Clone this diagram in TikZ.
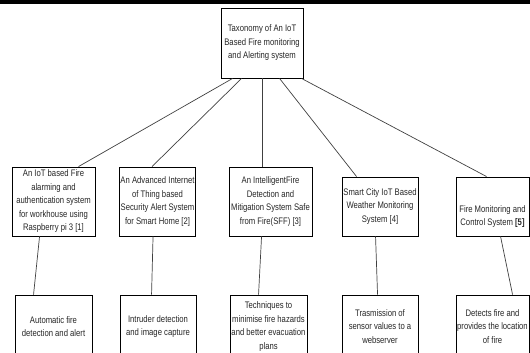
\documentclass[tikz,border=0pt]{standalone}
\usepackage{fontspec}
\setmainfont[FakeStretch=0.81]{Liberation Sans}
\begin{document}
\begin{tikzpicture}[x=1pt,y=-1pt,
  box/.style={draw=black, line width=0.9pt, align=center, inner sep=1pt,
    font=\fontsize{9.5}{13.5}\selectfont, text=black!85},
  txt/.style={align=center, inner sep=0pt, font=\fontsize{9.5}{13.5}\selectfont, text=black!85},
  link/.style={draw=black!75, line width=0.7pt}]
\useasboundingbox (0,0) rectangle (530,353);
\clip (0,0) rectangle (530,353);
\fill[black] (0,0) rectangle (530,4);

\node[box, minimum width=82pt, minimum height=70pt] (top) at (262,43)
  {Taxonomy of An IoT\\Based Fire monitoring\\and Alerting system};

\node[box, minimum width=83pt, minimum height=69pt] (b1) at (53.5,201.5)
  {An IoT based Fire\\alarming and\\authentication system\\for workhouse using\\Raspberry pi 3 [1]};
\node[box, minimum width=75pt, minimum height=69pt] (b2) at (157.5,201.5)
  {An Advanced Internet\\of Thing based\\Security Alert System\\for Smart Home [2]};
\node[box, minimum width=83pt, minimum height=69pt] (b3) at (270.5,201.5)
  {An IntelligentFire\\Detection and\\Mitigation System Safe\\from Fire(SFF) [3]};
\node[box, minimum width=76pt, minimum height=59pt] (b4) at (380,206.5)
  {Smart City IoT Based\\Weather Monitoring\\System [4]};
\node[box, minimum width=73pt, minimum height=59pt] (b5) at (492.5,206.5) {};
\node[txt] (b5t) at (492.5,216.5) {Fire Monitoring and\\Control System \textbf{[5]}};

\node[box, minimum width=77pt, minimum height=63pt] (c1) at (53.5,326.5)
  {Automatic fire\\detection and alert};
\node[box, minimum width=76pt, minimum height=63pt] (c2) at (158,326.5)
  {Intruder detection\\and image capture};
\node[box, minimum width=77pt, minimum height=63pt] (c3) at (268.5,326.5)
  {Techniques to\\minimise fire hazards\\and better evacuation\\plans};
\node[box, minimum width=76pt, minimum height=63pt] (c4) at (380,326.5)
  {Trasmission of\\sensor values to a\\webserver};
\node[box, minimum width=73pt, minimum height=63pt] (c5) at (492.5,326.5)
  {Detects fire and\\provides the location\\of fire};

\draw[link] ([xshift=12pt]top.south west) -- ([xshift=67pt]b1.north west);
\draw[link] ([xshift=21pt]top.south west) -- ([xshift=33pt]b2.north west);
\draw[link] ([xshift=42pt]top.south west) -- ([xshift=34pt]b3.north west);
\draw[link] ([xshift=59pt]top.south west) -- ([xshift=15pt]b4.north west);
\draw[link] ([xshift=81pt]top.south west) -- ([xshift=31pt]b5.north west);

\draw[link] ([xshift=28pt]b1.south west) -- ([xshift=19pt]c1.north west);
\draw[link] ([xshift=34pt]b2.south west) -- ([xshift=32pt]c2.north west);
\draw[link] ([xshift=33pt]b3.south west) -- ([xshift=29pt]c3.north west);
\draw[link] ([xshift=34pt]b4.south west) -- ([xshift=36pt]c4.north west);
\draw[link] ([xshift=45pt]b5.south west) -- ([xshift=57pt]c5.north west);
\end{tikzpicture}
\end{document}
